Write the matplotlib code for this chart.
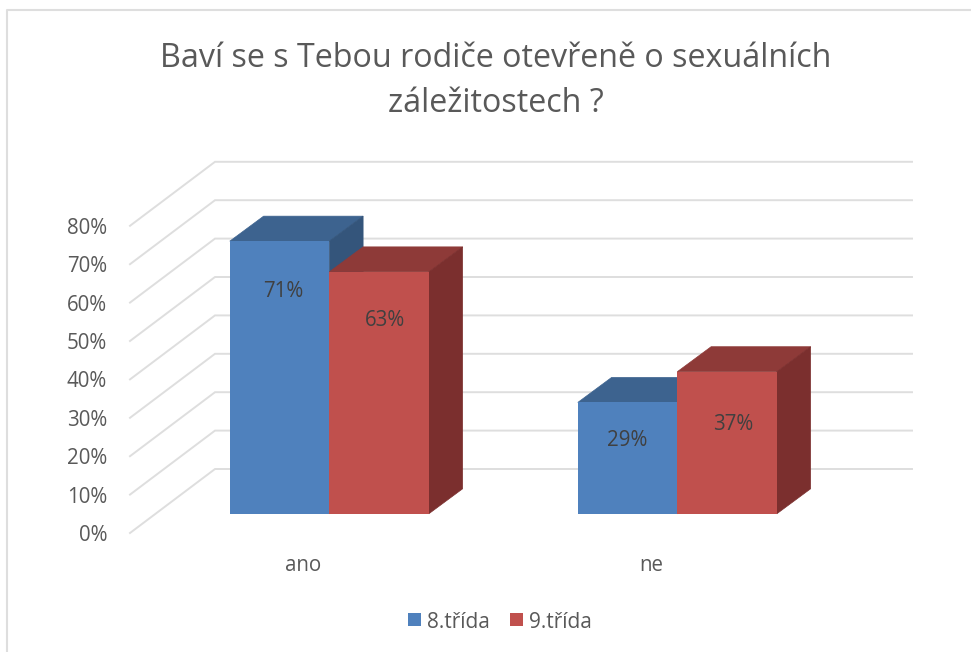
import matplotlib
matplotlib.use("Agg")
import matplotlib.pyplot as plt
from matplotlib.patches import Polygon

# ---- data ----
categories = ["ano", "ne"]
series_names = ["8.třída", "9.třída"]
values_8 = [71, 29]
values_9 = [63, 37]
axis_ticks = [0, 10, 20, 30, 40, 50, 60, 70, 80]
title = "Baví se s Tebou rodiče otevřeně o sexuálních\nzáležitostech ?"

# ---- layout ----
W, H = 971, 652
PX_Y = 3.84          # pixels per percentage point
PX_X = 348.0         # pixels per category
X0_PX, Y0_PX = 329.3, 513.8
BAR_W = 99.5 / PX_X
DX, DY = 33.8 / PX_X, 25.0 / PX_Y    # bar depth
WALL_FRONT = (130 - X0_PX) / PX_X, -19.2 / PX_Y
WALL_BACK = (215 - X0_PX) / PX_X, 44.8 / PX_Y
WALL_END = (912 - X0_PX) / PX_X

COL = {
    0: dict(front="#4F81BD", top="#3D638F", side="#34557B"),
    1: dict(front="#C0504D", top="#8E3A38", side="#7B2F2E"),
}
GRID = "#DEDEDE"
TXT = "#595959"
DARK = "#404040"
FONT = "Open Sans"
FS = 14.8

plt.rcParams["font.family"] = [FONT, "DejaVu Sans"]
fig = plt.figure(figsize=(W / 100, H / 100), dpi=100)
ax = fig.add_axes([0, 0, 1, 1])
ax.set_xlim(-X0_PX / PX_X, (W - X0_PX) / PX_X)
ax.set_ylim((Y0_PX - H) / PX_Y, Y0_PX / PX_Y)
ax.axis("off")


def px(x, y):
    """figure pixel (top-left origin) to axes data"""
    return (x - X0_PX) / PX_X, (Y0_PX - y) / PX_Y


# chart frame
ax.plot(*zip(px(7, H), px(7, 10), px(W, 10)), color="#DEDEDE", lw=1.5, zorder=1)

# gridlines on floor-side and back wall
for t in axis_ticks:
    xs = [WALL_FRONT[0], WALL_BACK[0], WALL_END]
    ys = [t + WALL_FRONT[1], t + WALL_BACK[1], t + WALL_BACK[1]]
    ax.plot(xs, ys, color=GRID, lw=1.4, zorder=2, solid_joinstyle="miter")
    lx, ly = px(107, 0)
    ax.text(lx, t + WALL_FRONT[1], f"{t}%", ha="right", va="center_baseline",
            color=TXT, fontsize=FS, zorder=6)

# bars
for i, vals in enumerate([values_8, values_9]):
    c = COL[i]
    lefts = [k - BAR_W + i * BAR_W for k in range(len(categories))]
    for l, v in zip(lefts, vals):
        r = l + BAR_W
        ax.add_patch(Polygon([(l, v), (r, v), (r + DX, v + DY), (l + DX, v + DY)],
                             fc=c["top"], ec=c["top"], lw=0.5, zorder=3 + i * 0.1))
        ax.add_patch(Polygon([(r, 0), (r + DX, DY), (r + DX, v + DY), (r, v)],
                             fc=c["side"], ec=c["side"], lw=0.5, zorder=3 + i * 0.1))
    ax.bar(lefts, vals, width=BAR_W, align="edge", color=c["front"], lw=0, zorder=4 + i * 0.1)

# data labels (pixel offsets of the label centres from the bar top centre)
label_offsets = [[(3.5, 48), (5.5, 46)], [(0, 36), (6, 50)]]
for i, vals in enumerate([values_8, values_9]):
    for k, v in enumerate(vals):
        cx = k - BAR_W + i * BAR_W + BAR_W / 2
        ox, oy = label_offsets[k][i]
        ax.annotate(f"{v}%", (cx, v), xytext=(ox * 0.72, -oy * 0.72), textcoords="offset points",
                    ha="center", va="center_baseline", color=DARK, fontsize=FS, zorder=7)

# category labels
for k, name in enumerate(categories):
    ax.text(k - 26 / PX_X, px(0, 563)[1], name, ha="center", va="center_baseline",
            color=TXT, fontsize=FS)

# title
for line, y in zip(title.split("\n"), (55, 100)):
    tx, ty = px(496, y)
    ax.text(tx, ty, line, ha="center", va="center_baseline", color=TXT, fontsize=23.2)

# legend
for i, (name, sx) in enumerate(zip(series_names, (408, 510))):
    x1, y1 = px(sx, 613)
    x2, y2 = px(sx + 13, 626)
    ax.bar(x1, y1 - y2, bottom=y2, width=x2 - x1, align="edge", color=COL[i]["front"], lw=0)
    ax.text(px(sx + 19, 0)[0], px(0, 620)[1], name, ha="left", va="center_baseline",
            color=TXT, fontsize=FS + 0.2)

fig.savefig("out.png", dpi=100, facecolor="white")
